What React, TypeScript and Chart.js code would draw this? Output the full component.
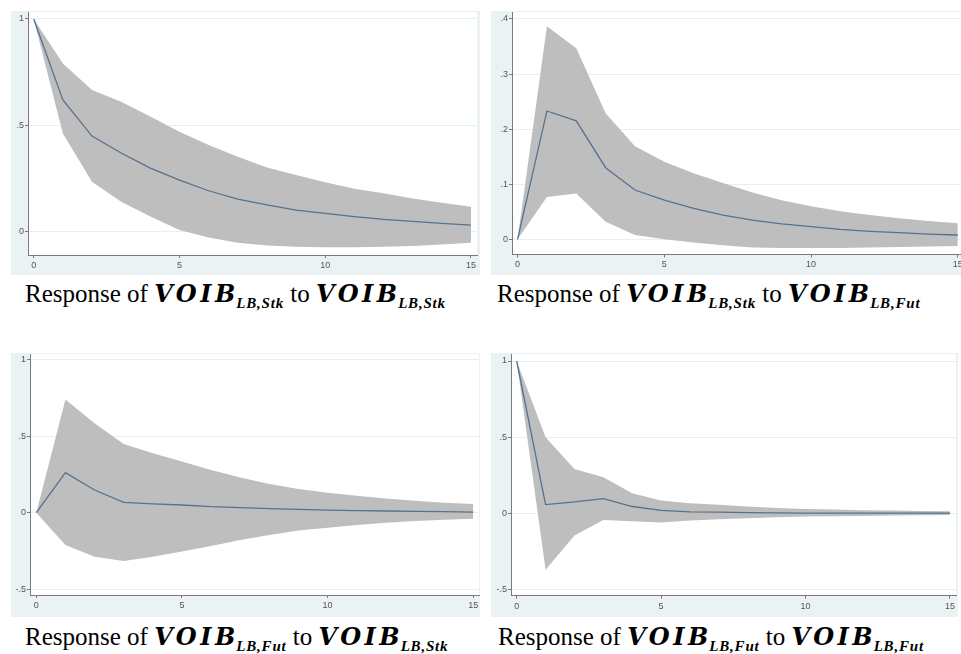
import React, { useEffect, useRef } from "react";
import { Chart, registerables } from "chart.js";

Chart.register(...registerables);

// ---------- data ----------
const horizons = [0, 1, 2, 3, 4, 5, 6, 7, 8, 9, 10, 11, 12, 13, 14, 15];
const xTicks = [0, 5, 10, 15];

// Response of VOIB_LB,Stk to VOIB_LB,Stk
const irfStkStk = [1, 0.618, 0.448, 0.368, 0.297, 0.24, 0.19, 0.151, 0.123, 0.099, 0.083, 0.068, 0.055, 0.046, 0.036, 0.028];
const upStkStk = [1, 0.79, 0.665, 0.61, 0.54, 0.468, 0.406, 0.35, 0.3, 0.264, 0.23, 0.2, 0.178, 0.154, 0.134, 0.115];
const loStkStk = [1, 0.46, 0.233, 0.138, 0.068, 0.005, -0.03, -0.055, -0.068, -0.074, -0.077, -0.077, -0.074, -0.07, -0.064, -0.055];
const yTicksStkStk = [0, 0.5, 1];

// Response of VOIB_LB,Stk to VOIB_LB,Fut
const irfStkFut = [0, 0.233, 0.215, 0.13, 0.0895, 0.071, 0.056, 0.044, 0.035, 0.028, 0.023, 0.018, 0.0145, 0.012, 0.0095, 0.0078];
const upStkFut = [0, 0.387, 0.347, 0.229, 0.169, 0.141, 0.12, 0.102, 0.085, 0.071, 0.06, 0.051, 0.044, 0.038, 0.033, 0.029];
const loStkFut = [0, 0.077, 0.083, 0.032, 0.008, 0, -0.006, -0.011, -0.015, -0.016, -0.016, -0.016, -0.015, -0.014, -0.013, -0.012];
const yTicksStkFut = [0, 0.1, 0.2, 0.3, 0.4];

// Response of VOIB_LB,Fut to VOIB_LB,Stk
const irfFutStk = [0, 0.261, 0.148, 0.067, 0.057, 0.05, 0.039, 0.033, 0.026, 0.022, 0.017, 0.013, 0.011, 0.009, 0.007, 0.004];
const upFutStk = [0, 0.739, 0.583, 0.448, 0.387, 0.333, 0.278, 0.23, 0.187, 0.154, 0.13, 0.111, 0.093, 0.078, 0.065, 0.057];
const loFutStk = [0, -0.211, -0.287, -0.315, -0.287, -0.254, -0.217, -0.178, -0.146, -0.117, -0.098, -0.08, -0.065, -0.054, -0.046, -0.039];
const yTicksFutStk = [-0.5, 0, 0.5, 1];

// Response of VOIB_LB,Fut to VOIB_LB,Fut
const irfFutFut = [1, 0.057, 0.074, 0.096, 0.044, 0.018, 0.009, 0.0066, 0.004, 0.002, 0.001, 0.001, 0.001, 0, 0, 0];
const upFutFut = [1, 0.499, 0.291, 0.236, 0.131, 0.083, 0.066, 0.055, 0.044, 0.035, 0.028, 0.024, 0.02, 0.018, 0.015, 0.013];
const loFutFut = [1, -0.372, -0.147, -0.044, -0.053, -0.061, -0.048, -0.039, -0.033, -0.026, -0.022, -0.02, -0.018, -0.015, -0.013, -0.011];
const yTicksFutFut = [-0.5, 0, 0.5, 1];

// ---------- styles ----------
const PANEL_BG = "#eaf2f3";
const BAND = "#bebebe";
const LINE = "#56728e";
const AXIS = "#7a7a7a";
const GRID = "#e6eff1";
const TICK_TXT = "#555555";

const fmt = (v: number) => {
  const s = String(Math.round(v * 1000) / 1000);
  return s.replace(/^(-?)0\./, "$1.");
};

const plotBgPlugin = {
  id: "plotBg",
  beforeDraw(chart: any) {
    const { ctx, chartArea } = chart;
    ctx.save();
    ctx.fillStyle = "#ffffff";
    ctx.fillRect(chartArea.left, chartArea.top, chartArea.right - chartArea.left, chartArea.bottom - chartArea.top);
    ctx.restore();
  },
};

type PanelProps = {
  left: number;
  top: number;
  width: number;
  height: number;
  yAxisW: number;
  xAxisH: number;
  padTop: number;
  padRight: number;
  xmin: number;
  xmax: number;
  ymin: number;
  ymax: number;
  yTicks: number[];
  irf: number[];
  up: number[];
  lo: number[];
};

function IrfPanel(p: PanelProps) {
  const ref = useRef<HTMLCanvasElement | null>(null);
  useEffect(() => {
    if (!ref.current) return;
    const pts = (arr: number[]) => horizons.map((h, i) => ({ x: h, y: arr[i] }));
    const chart = new Chart(ref.current, {
      type: "line",
      data: {
        datasets: [
          {
            data: pts(p.up),
            borderWidth: 0,
            borderColor: "rgba(0,0,0,0)",
            backgroundColor: BAND,
            fill: "+1",
            pointRadius: 0,
            tension: 0,
            order: 2,
          },
          {
            data: pts(p.lo),
            borderWidth: 0,
            borderColor: "rgba(0,0,0,0)",
            backgroundColor: BAND,
            fill: false,
            pointRadius: 0,
            tension: 0,
            order: 3,
          },
          {
            data: pts(p.irf),
            borderWidth: 1.3,
            borderColor: LINE,
            fill: false,
            pointRadius: 0,
            tension: 0,
            order: 0,
          },
        ],
      },
      options: {
        animation: false,
        responsive: false,
        maintainAspectRatio: false,
        layout: { padding: { top: p.padTop, right: p.padRight, left: 0, bottom: 0 } },
        plugins: { legend: { display: false }, tooltip: { enabled: false }, title: { display: false } },
        scales: {
          x: {
            type: "linear",
            min: p.xmin,
            max: p.xmax,
            afterBuildTicks: (s: any) => {
              s.ticks = xTicks.map((v) => ({ value: v }));
            },
            afterFit: (s: any) => {
              s.height = p.xAxisH;
              s.paddingLeft = 0;
              s.paddingRight = 0;
              s.paddingTop = 0;
              s.paddingBottom = 0;
            },
            ticks: {
              autoSkip: false,
              maxRotation: 0,
              padding: 2,
              color: TICK_TXT,
              font: { family: "'Liberation Sans', Arial, sans-serif", size: 9 },
              callback: (v: any) => fmt(Number(v)),
            },
            grid: { drawOnChartArea: false, drawTicks: true, tickLength: 3, tickColor: AXIS },
            border: { display: true, color: AXIS, width: 1 },
          },
          y: {
            type: "linear",
            min: p.ymin,
            max: p.ymax,
            afterBuildTicks: (s: any) => {
              s.ticks = p.yTicks.map((v) => ({ value: v }));
            },
            afterFit: (s: any) => {
              s.width = p.yAxisW;
              s.paddingTop = 0;
              s.paddingBottom = 0;
              s.paddingLeft = 0;
              s.paddingRight = 0;
            },
            ticks: {
              autoSkip: false,
              padding: 1,
              color: TICK_TXT,
              font: { family: "'Liberation Sans', Arial, sans-serif", size: 9 },
              callback: (v: any) => fmt(Number(v)),
            },
            grid: { drawOnChartArea: true, color: GRID, drawTicks: true, tickLength: 3, tickColor: AXIS },
            border: { display: true, color: AXIS, width: 1 },
          },
        },
      },
      plugins: [plotBgPlugin],
    } as any);
    return () => chart.destroy();
  }, []);
  return (
    <div
      style={{
        position: "absolute",
        left: p.left,
        top: p.top,
        width: p.width,
        height: p.height,
        background: PANEL_BG,
      }}
    >
      <canvas ref={ref} width={p.width} height={p.height} style={{ width: p.width, height: p.height, display: "block" }} />
    </div>
  );
}

const serif = "'Liberation Serif', 'Times New Roman', serif";
const mathBI = "'DejaVu Serif', serif";

function Voib({ sub }: { sub: string }) {
  return (
    <span style={{ fontWeight: "bold", fontStyle: "italic" }}>
      <span style={{ fontFamily: mathBI, fontSize: 24, letterSpacing: 3.5 }}>VOI</span>
      <span style={{ fontFamily: mathBI, fontSize: 24 }}>B</span>
      <span style={{ fontFamily: serif, fontSize: 15, position: "relative", top: 6, letterSpacing: 0.8, marginLeft: 1 }}>{sub}</span>
    </span>
  );
}

function Caption({ left, top, a, b }: { left: number; top: number; a: string; b: string }) {
  return (
    <div
      style={{
        position: "absolute",
        left,
        top,
        whiteSpace: "nowrap",
        fontFamily: serif,
        fontSize: 25,
        lineHeight: "25px",
        color: "#000",
      }}
    >
      Response of <Voib sub={a} /> to <Voib sub={b} />
    </div>
  );
}

export default function App() {
  return (
    <div style={{ position: "absolute", left: 0, top: 0, width: 961, height: 654, background: "#fff", overflow: "hidden" }}>
      <IrfPanel
        left={11} top={11} width={469} height={264}
        yAxisW={17} xAxisH={20} padTop={1} padRight={3}
        xmin={-0.196} xmax={15.206} ymin={-0.113} ymax={1.033}
        yTicks={yTicksStkStk} irf={irfStkStk} up={upStkStk} lo={loStkStk}
      />
      <IrfPanel
        left={491} top={11} width={470} height={264}
        yAxisW={21} xAxisH={20.5} padTop={1} padRight={0}
        xmin={-0.19} xmax={15.11} ymin={-0.0276} ymax={0.4127}
        yTicks={yTicksStkFut} irf={irfStkFut} up={upStkFut} lo={loStkFut}
      />
      <IrfPanel
        left={11} top={353} width={469} height={264}
        yAxisW={19} xAxisH={22} padTop={1} padRight={1}
        xmin={-0.216} xmax={15.196} ymin={-0.537} ymax={1.035}
        yTicks={yTicksFutStk} irf={irfFutStk} up={upFutStk} lo={loFutStk}
      />
      <IrfPanel
        left={491} top={353} width={467} height={264}
        yAxisW={20} xAxisH={21.3} padTop={1} padRight={2}
        xmin={-0.197} xmax={15.21} ymin={-0.542} ymax={1.046}
        yTicks={yTicksFutFut} irf={irfFutFut} up={upFutFut} lo={loFutFut}
      />
      <Caption left={25} top={281} a="LB,Stk" b="LB,Stk" />
      <Caption left={497} top={281} a="LB,Stk" b="LB,Fut" />
      <Caption left={25} top={624} a="LB,Fut" b="LB,Stk" />
      <Caption left={498} top={624} a="LB,Fut" b="LB,Fut" />
    </div>
  );
}
